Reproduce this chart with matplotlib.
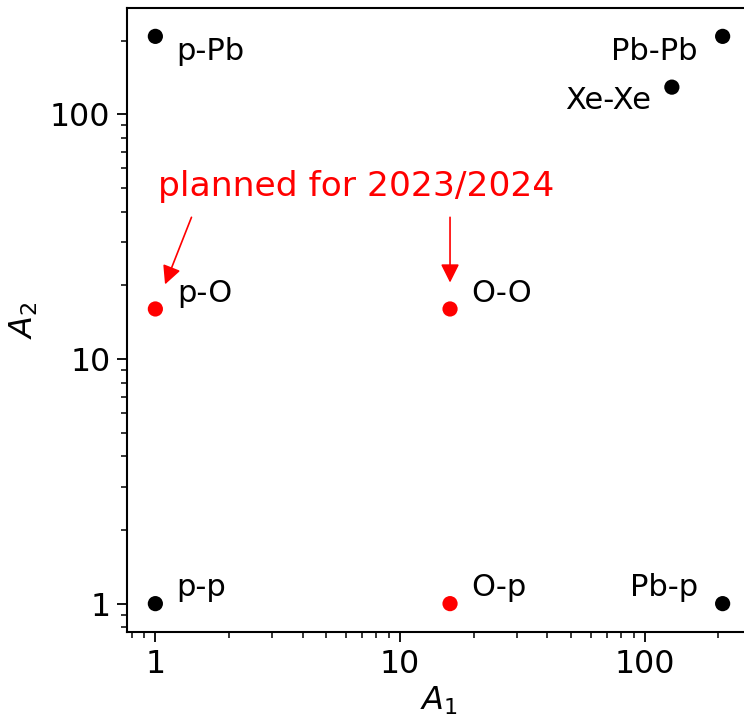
#!/usr/bin/env python3
import matplotlib
matplotlib.use("Agg")
import matplotlib.pyplot as plt

# collision systems: mass numbers of the two beams
systems = ["p-p", "p-O", "p-Pb", "O-p", "O-O", "Pb-p", "Pb-Pb", "Xe-Xe"]
a1 = [1, 1, 1, 16, 16, 208, 208, 129]
a2 = [1, 16, 208, 1, 16, 1, 208, 129]
planned = [False, True, False, True, True, False, False, False]

planned_text = "planned for 2023/2024"
arrow_targets = ["p-O", "O-O"]

# label placement (offset in points, horizontal alignment)
label_pos = {
    "p-p": (15, 5.5, "left"),
    "p-O": (16, 5, "left"),
    "p-Pb": (15, -17, "left"),
    "O-p": (15, 5.5, "left"),
    "O-O": (15, 5, "left"),
    "Pb-p": (-18, 5.5, "right"),
    "Pb-Pb": (-18, -17, "right"),
    "Xe-Xe": (-15, -16, "right"),
}
# arrow tails relative to target point (points)
arrow_tail = {"p-O": (26, 66), "O-O": (0, 66)}

plt.rcParams["font.family"] = ["DejaVu Sans"]
plt.rcParams["mathtext.fontset"] = "dejavusans"

fig = plt.figure(figsize=(7.44, 7.17), dpi=100)
ax = fig.add_axes([127 / 744, 85 / 717, 624 / 744, 624 / 717])

colors = ["red" if p else "black" for p in planned]
ax.scatter(a1, a2, s=120, c=colors, zorder=3, linewidths=0)
ax.set_xscale("log")
ax.set_yscale("log")
ax.margins(0.05)

for name, x, y in zip(systems, a1, a2):
    dx, dy, ha = label_pos[name]
    ax.annotate(name, (x, y), xytext=(dx, dy), textcoords="offset points",
                ha=ha, va="baseline", fontsize=22, color="black")

for name in arrow_targets:
    i = systems.index(name)
    ax.annotate("", xy=(a1[i], a2[i]), xytext=arrow_tail[name],
                textcoords="offset points",
                arrowprops=dict(arrowstyle="-|>", color="red", lw=1.2,
                                mutation_scale=28, shrinkA=0, shrinkB=19))

ax.text(31 / 624, 436 / 624, planned_text, transform=ax.transAxes,
        color="red", fontsize=24.8, ha="left", va="baseline")

ax.set_xticks([1, 10, 100])
ax.set_xticklabels(["1", "10", "100"])
ax.set_yticks([1, 10, 100])
ax.set_yticklabels(["1", "10", "100"])
ax.tick_params(which="major", length=7, width=1.3, labelsize=22.8, pad=5)
ax.tick_params(which="minor", length=4, width=1.1)
for sp in ax.spines.values():
    sp.set_linewidth(1.5)

ax.set_xlabel("$A_1$", fontsize=23)
ax.set_ylabel("$A_2$", fontsize=23)
ax.xaxis.set_label_coords(0.5, -0.085)
ax.yaxis.set_label_coords(-0.14, 0.5)

fig.savefig("out.png", dpi=100)
